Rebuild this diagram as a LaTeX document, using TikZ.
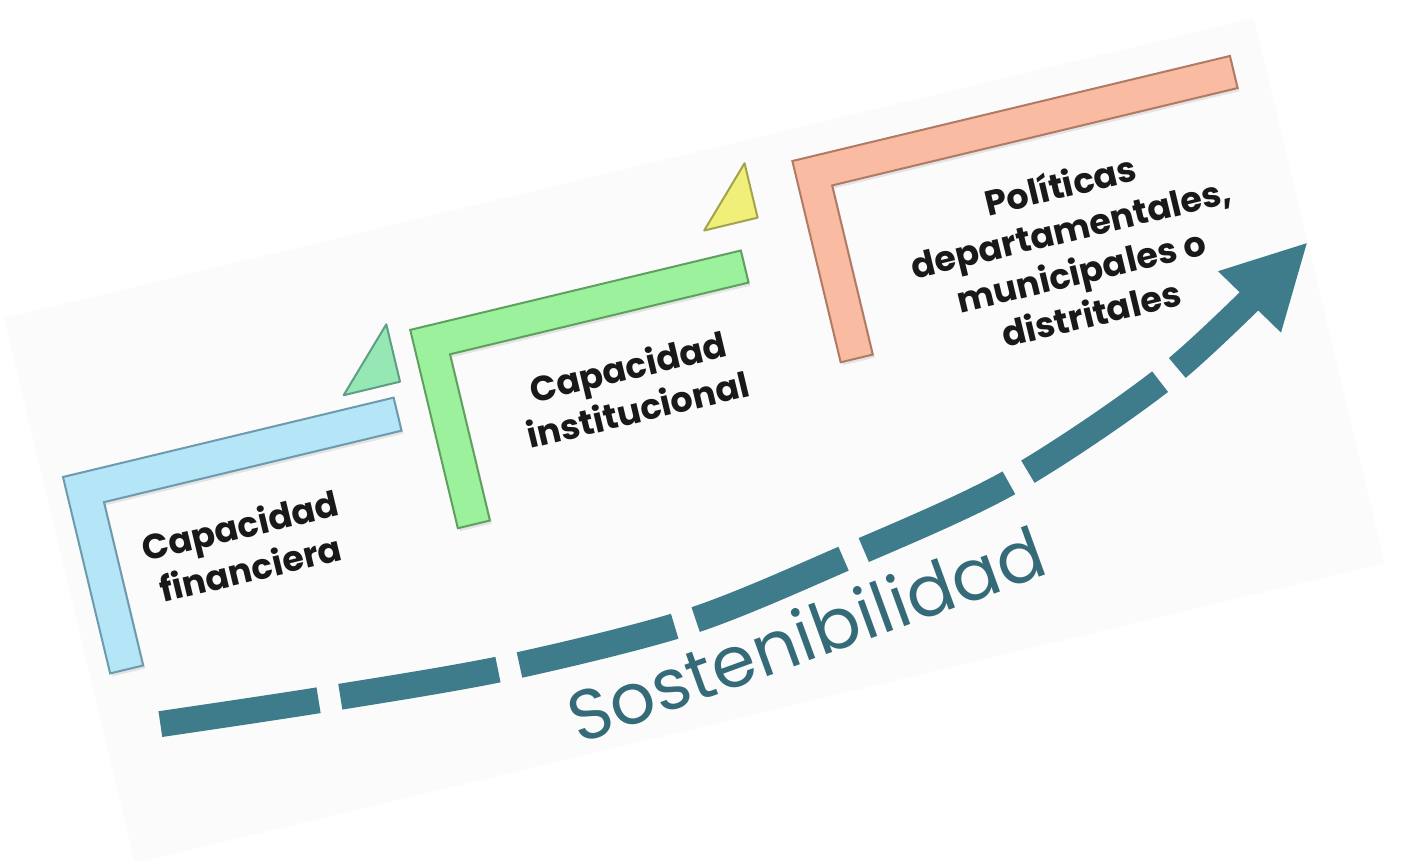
\documentclass[tikz,border=0pt]{standalone}
\usepackage{fontspec}
\setmainfont{Poppins}
\usepackage{xcolor}
\usetikzlibrary{arrows.meta, shadows}

\definecolor{finblue}{HTML}{B4E6F8}
\definecolor{finedge}{HTML}{6E9AAE}
\definecolor{instgreen}{HTML}{9CF29C}
\definecolor{instedge}{HTML}{5FA05F}
\definecolor{polpeach}{HTML}{F9BBA2}
\definecolor{poledge}{HTML}{B07A64}
\definecolor{triaqua}{HTML}{95E8B4}
\definecolor{triaquaedge}{HTML}{5E9E86}
\definecolor{triyellow}{HTML}{EFEF7A}
\definecolor{triyellowedge}{HTML}{A3A34E}
\definecolor{flowteal}{HTML}{3F7C8B}
\definecolor{sosteal}{HTML}{356B78}

\begin{document}
\begin{tikzpicture}[x=1pt, y=-1pt,
            bracket/.style={line width=2pt, line join=miter, drop shadow={opacity=0.18, shadow xshift=2pt, shadow yshift=-3pt}},
            tri/.style={line width=2pt, line join=round},
            txt/.style={align=center, text=black!90, font=\fontsize{35}{44}\selectfont\bfseries},
            flow/.style={line width=26pt, draw=flowteal, dash pattern=on 160pt off 22pt, -{Triangle[length=82pt, width=88pt, line width=0pt]}}]
            \useasboundingbox (0,0) rectangle (1414,860);
            \fill[white] (0,0) rectangle (1414,860);
            \begin{scope}[shift={(63,477)}, rotate=13.5, transform shape]
            % card
            \fill[black!1.5] (-20,-168) rectangle (1265,392);
            \draw[bracket, draw=finedge, fill=finblue] (0,0) -- ++(340,0) -- ++(0,34) -- ++(-306,0) -- ++(0,168) -- ++(-34,0) -- cycle;
            \draw[bracket, draw=instedge, fill=instgreen] (372,-62) -- ++(340,0) -- ++(0,33) -- ++(-307,0) -- ++(0,171) -- ++(-33,0) -- cycle;
            \draw[bracket, draw=poledge, fill=polpeach] (783,-137) -- ++(450,0) -- ++(0,33) -- ++(-417,0) -- ++(0,174) -- ++(-33,0) -- cycle;
            \draw[tri, draw=triaquaedge, fill=triaqua] (350,-14) -- (292,-14) -- (350,-73) -- cycle;
            \draw[tri, draw=triyellowedge, fill=triyellow] (736,-90) -- (681,-90) -- (736,-146) -- cycle;

            \node[txt] (fin) at (161,110) {Capacidad\\financiera};
            \node[txt] (inst) at (575,46) {Capacidad\\institucional};
            \node[txt] (pol) at (1038,14) {Políticas\\departamentales,\\municipales o\\distritales};
            \node[text=sosteal, font=\fontsize{71}{74}\selectfont, rotate=6.5] (sos) at (686,326) {Sostenibilidad};

            \draw[flow] plot[smooth] coordinates {(37,263) (200,277) (385,289) (574,287) (738,262) (920,226) (1103,157) (1264,63)};
            \end{scope}
        \end{tikzpicture}
\end{document}
